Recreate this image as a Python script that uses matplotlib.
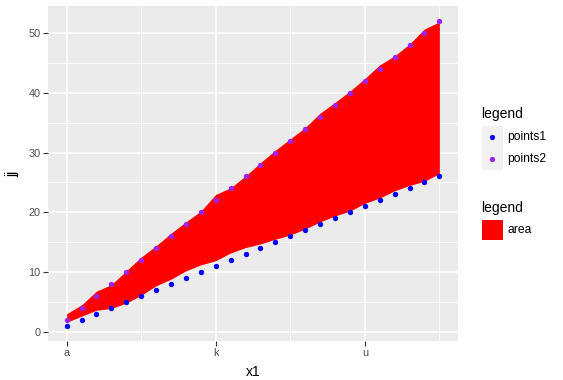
import numpy as np
import matplotlib
matplotlib.use('Agg')
import matplotlib.pyplot as plt
from matplotlib.patches import Rectangle
from matplotlib.lines import Line2D

plt.rcParams['font.family'] = ['Liberation Sans', 'DejaVu Sans']

letters = list('abcdefghijklmnopqrstuvwxyz')
points1 = [1, 2, 3, 4, 5, 6, 7, 8, 9, 10, 11, 12, 13,
           14, 15, 16, 17, 18, 19, 20, 21, 22, 23, 24, 25, 26]
points2 = [2, 4, 6, 8, 10, 12, 14, 16, 18, 20, 22, 24, 26,
           28, 30, 32, 34, 36, 38, 40, 42, 44, 46, 48, 50, 52]
area_lo = [1.6, 2.6, 3.6, 3.9, 4.8, 6.1, 7.7, 8.8, 10.2, 11.2, 11.9, 13.2, 14.1,
           14.7, 15.5, 16.2, 17.2, 18.4, 19.4, 20.2, 21.5, 22.4, 23.6, 24.5, 25.2, 26.5]
area_hi = [3.0, 4.5, 6.8, 7.9, 10.2, 12.5, 14.4, 16.5, 18.4, 20.2, 23.0, 24.1, 26.1,
           28.3, 30.4, 32.3, 34.2, 36.6, 38.4, 40.3, 42.4, 44.7, 46.2, 48.2, 50.7, 51.9]

W, H = 563, 380
def fx(p):
    return p / W
def fy(p):
    return 1 - p / H

x = np.arange(1, len(letters) + 1)

fig = plt.figure(figsize=(W / 100, H / 100), dpi=100)
ax = fig.add_axes([fx(48), fy(341), (458 - 48) / W, (341 - 6) / H])
ax.set_facecolor('#EBEBEB')

ax.fill_between(x, area_lo, area_hi, color='#FF0000', lw=0, zorder=2)
ax.scatter(x, points1, s=15, color='#0000FF', lw=0, zorder=3)
ax.scatter(x, points2, s=15, color='#A020F0', lw=0, zorder=3)

ax.set_xlim(-0.25, 27.25)
ax.set_ylim(-1.55, 54.55)
ax.set_xticks([1, 11, 21])
ax.set_xticklabels([letters[0], letters[10], letters[20]])
ax.set_xticks([6, 16, 26], minor=True)
ax.set_yticks([0, 10, 20, 30, 40, 50])
ax.set_yticks([5, 15, 25, 35, 45], minor=True)

ax.set_axisbelow(True)
ax.grid(which='major', color='white', lw=1.1)
ax.grid(which='minor', color='white', lw=0.55)
for s in ax.spines.values():
    s.set_visible(False)
ax.tick_params(which='major', length=3.3, width=0.8, color='#333333',
               labelcolor='#4D4D4D', labelsize=7.8, pad=2)
ax.tick_params(which='minor', length=0)

fig.text(fx(253), fy(372), 'x1', ha='center', va='center', fontsize=10)
fig.text(fx(12), fy(174), 'jj', ha='center', va='center', fontsize=10, rotation=90)

# legends
fig.text(fx(481), fy(114), 'legend', ha='left', va='center', fontsize=10)
for i, (lab, col) in enumerate([('points1', '#0000FF'), ('points2', '#A020F0')]):
    top = 126 + 22 * i
    fig.add_artist(Rectangle((fx(482), fy(top + 22)), 21 / W, 22 / H,
                             transform=fig.transFigure, facecolor='#F2F2F2', lw=0))
    fig.add_artist(Line2D([fx(492.5)], [fy(top + 11)], marker='o', ms=3.8,
                          color=col, mew=0, ls='', transform=fig.transFigure))
    fig.text(fx(507), fy(top + 11), lab, ha='left', va='center', fontsize=8.7)

fig.text(fx(481), fy(208), 'legend', ha='left', va='center', fontsize=10)
fig.add_artist(Rectangle((fx(482), fy(240)), 21 / W, 20 / H,
                         transform=fig.transFigure, facecolor='#FF0000', lw=0))
fig.text(fx(507), fy(230), 'area', ha='left', va='center', fontsize=8.7)

fig.savefig('out.png', dpi=100)
